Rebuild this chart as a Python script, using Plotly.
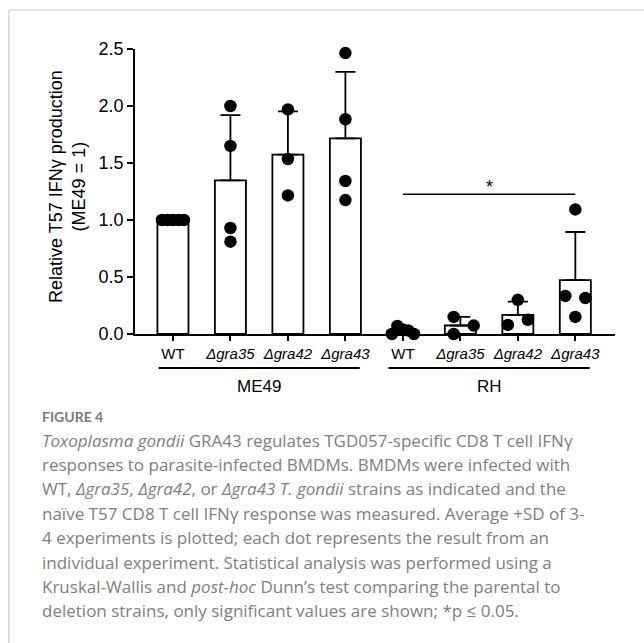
import numpy as np
import plotly.graph_objects as go

# ---------------- data ----------------
categories = ["WT", "Δgra35", "Δgra42", "Δgra43", "WT", "Δgra35", "Δgra42", "Δgra43"]
groups = ["ME49", "ME49", "ME49", "ME49", "RH", "RH", "RH", "RH"]
me49_wt = [1.0, 1.0, 1.0, 1.0, 1.0]
me49_gra35 = [2.00, 1.65, 0.93, 0.81]
me49_gra42 = [1.97, 1.535, 1.216]
me49_gra43 = [2.464, 1.884, 1.342, 1.175]
rh_wt = [0.04, 0.03, 0.07, 0.0, 0.0]
rh_gra35 = [0.15, 0.074, 0.0]
rh_gra42 = [0.30, 0.08, 0.125]
rh_gra43 = [1.093, 0.334, 0.316, 0.15]
y_ticks = [0.0, 0.5, 1.0, 1.5, 2.0, 2.5]
group_names = ["ME49", "RH"]
sig_pair = (4, 7)
sig_label = "*"
sig_level = 1.225

samples = [me49_wt, me49_gra35, me49_gra42, me49_gra43, rh_wt, rh_gra35, rh_gra42, rh_gra43]

# ---------------- layout geometry ----------------
W, H = 644, 643
L, R, T, B = 135, 29, 49, 309
PW, PH = W - L - R, H - T - B
XR = [-0.66, 7.69]
YR = [0, 2.5]
px_per_x = PW / (XR[1] - XR[0])
px_per_y = PH / (YR[1] - YR[0])


def pxx(px):
    return (px - L) / PW


def pxy(py):
    return (H - B - py) / PH


means = [float(np.mean(s)) for s in samples]
sds = [float(np.std(s, ddof=1)) for s in samples]

# beeswarm-like horizontal spreading of dots (GraphPad style)
D = 12.0
STEP = 20.0
MAXSPREAD = 22.0
dot_x, dot_y = [], []
for i, s in enumerate(samples):
    placed = []
    for v in s:
        vy = v * px_per_y
        cands = [0.0]
        for j in range(1, 10):
            cands += [j * STEP, -j * STEP]
        for c in cands:
            if all(np.hypot(c - px, vy - py) >= D for px, py in placed):
                placed.append((c, vy))
                break
    offs = np.array([p[0] for p in placed])
    ys = np.array([p[1] for p in placed])
    n = len(offs)
    visited = [False] * n
    for a in range(n):
        if visited[a]:
            continue
        cl = [a]
        visited[a] = True
        q = [a]
        while q:
            u = q.pop()
            for b in range(n):
                if not visited[b] and abs(ys[b] - ys[u]) < D:
                    visited[b] = True
                    cl.append(b)
                    q.append(b)
        if len(cl) > 1:
            m = offs[cl].mean()
            offs[cl] -= m
            spread = offs[cl].max() - offs[cl].min()
            if spread > MAXSPREAD:
                offs[cl] *= MAXSPREAD / spread
    for o, v in zip(offs, s):
        dot_x.append(i + o / px_per_x)
        dot_y.append(v)

FONT = "Liberation Sans, Arial, sans-serif"
xpos = list(range(len(categories)))
ticktext = [c if c == "WT" else "<i>%s</i>" % c for c in categories]

fig = go.Figure()
fig.add_trace(go.Bar(
    x=xpos, y=means, width=0.54,
    marker=dict(color="white", line=dict(color="black", width=1.8)),
    error_y=dict(type="data", symmetric=False, array=sds,
                 arrayminus=[0] * len(sds), color="black", thickness=1.8, width=10),
    showlegend=False,
))
fig.add_trace(go.Scatter(
    x=dot_x, y=dot_y, mode="markers",
    marker=dict(color="black", size=12.5, line=dict(width=0)),
    cliponaxis=False, showlegend=False,
))

shapes = []
annotations = []
grp_span = {}
for i, g in enumerate(groups):
    grp_span.setdefault(g, []).append(i)
for g in group_names:
    idx = grp_span[g]
    x0, x1 = min(idx) - 0.25, max(idx) + 0.25
    shapes.append(dict(type="line", xref="x", yref="paper", x0=x0, x1=x1,
                       y0=pxy(368), y1=pxy(368), line=dict(color="black", width=1.8)))
    annotations.append(dict(xref="x", yref="paper", x=(x0 + x1) / 2, y=pxy(386),
                            text=g, showarrow=False, xanchor="center", yanchor="middle",
                            font=dict(family=FONT, size=17, color="black")))

# significance line
shapes.append(dict(type="line", xref="x", yref="y", x0=sig_pair[0], x1=sig_pair[1],
                   y0=sig_level, y1=sig_level, line=dict(color="black", width=1.5)))
annotations.append(dict(xref="x", yref="y", x=(sig_pair[0] + sig_pair[1]) / 2, y=sig_level,
                        text=sig_label, showarrow=False, yanchor="bottom", yshift=-5,
                        font=dict(family=FONT, size=18, color="black")))

# y title
annotations.append(dict(xref="paper", yref="paper", x=pxx(67), y=pxy(187),
                        text="Relative T57 IFNγ production<br>(ME49 = 1)",
                        textangle=-90, showarrow=False, xanchor="center", yanchor="middle",
                        font=dict(family=FONT, size=18, color="black")))

# frame lines
shapes.append(dict(type="line", xref="paper", yref="paper", x0=pxx(9), x1=pxx(W + 5),
                   y0=pxy(10), y1=pxy(10), line=dict(color="#cccccc", width=1.2)))
shapes.append(dict(type="line", xref="paper", yref="paper", x0=pxx(9), x1=pxx(9),
                   y0=pxy(10), y1=pxy(H + 5), line=dict(color="#cccccc", width=1.2)))

# caption
CAP_FONT = "Open Sans, Lato, sans-serif"
CAP_COLOR = "#808080"
annotations.append(dict(xref="paper", yref="paper", x=pxx(40), y=pxy(416),
                        text="<b>FIGURE 4</b>", showarrow=False, xanchor="left", yanchor="middle",
                        font=dict(family="Lato, sans-serif", size=14, color="#7a7a7a")))
caption_lines = [
    "<i>Toxoplasma gondii</i> GRA43 regulates TGD057-specific CD8 T cell IFNγ",
    "responses to parasite-infected BMDMs. BMDMs were infected with",
    "WT, <i>Δgra35</i>, <i>Δgra42</i>, or <i>Δgra43 T. gondii</i> strains as indicated and the",
    "naïve T57 CD8 T cell IFNγ response was measured. Average +SD of 3-",
    "4 experiments is plotted; each dot represents the result from an",
    "individual experiment. Statistical analysis was performed using a",
    "Kruskal-Wallis and <i>post-hoc</i> Dunn’s test comparing the parental to",
    "deletion strains, only significant values are shown; *p ≤ 0.05.",
]
for k, line in enumerate(caption_lines):
    annotations.append(dict(xref="paper", yref="paper", x=pxx(40), y=pxy(440 + 24.4 * k),
                            text=line, showarrow=False, xanchor="left", yanchor="middle",
                            font=dict(family=CAP_FONT, size=17, color=CAP_COLOR)))

fig.update_layout(
    width=W, height=H,
    margin=dict(l=L, r=R, t=T, b=B, pad=0),
    paper_bgcolor="white", plot_bgcolor="white",
    shapes=shapes, annotations=annotations,
    showlegend=False,
    xaxis=dict(range=XR, tickmode="array", tickvals=xpos, ticktext=ticktext,
               showline=True, linecolor="black", linewidth=1.8, ticks="outside",
               ticklen=5, tickwidth=1.8, tickcolor="black", showgrid=False, zeroline=False,
               tickfont=dict(family=FONT, size=15, color="black"), automargin=False,
               fixedrange=True),
    yaxis=dict(range=YR, tickmode="array", tickvals=y_ticks, tickformat=".1f",
               showline=True, linecolor="black", linewidth=1.8, ticks="outside",
               ticklen=6, tickwidth=1.8, tickcolor="black", showgrid=False, zeroline=False,
               tickfont=dict(family=FONT, size=18, color="black"), automargin=False,
               fixedrange=True),
)

fig.write_html("out.html", config={"displayModeBar": False},
               post_script="document.body.style.margin='0';document.body.style.overflow='hidden';")
